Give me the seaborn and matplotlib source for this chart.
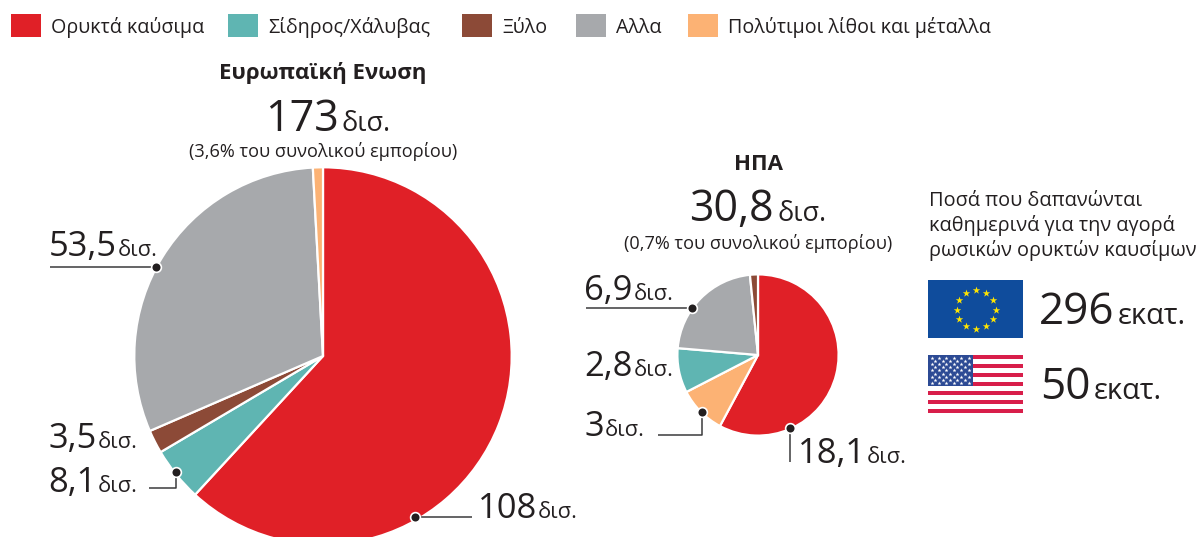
import numpy as np
import matplotlib
matplotlib.use("Agg")
import matplotlib.pyplot as plt
from matplotlib.patches import Rectangle
import seaborn as sns

# ---------- data ----------
categories = ["Ορυκτά καύσιμα", "Σίδηρος/Χάλυβας", "Ξύλο", "Αλλα", "Πολύτιμοι λίθοι και μέταλλα"]
eu_order = [0, 1, 2, 3, 4]
eu_values = [108, 8.1, 3.5, 53.5, 1.5]
us_order = [0, 4, 1, 3, 2]
us_values = [18.1, 3, 2.8, 6.9, 0.5]
daily_spend = ["296", "50"]
hex_colors = ["#E02027", "#5FB5B2", "#8C4A37", "#A7A9AC", "#FCB274"]

sns.set_theme(style="white")
FONT = "Open Sans"
plt.rcParams["font.family"] = [FONT, "DejaVu Sans"]
palette = sns.color_palette(hex_colors)
INK = "#231F20"
W, H = 1198, 537

fig = plt.figure(figsize=(W / 100, H / 100), dpi=100)
ax = fig.add_axes([0, 0, 1, 1])

def Y(y):
    return H - y

def pt(px):
    return px * 72 / 100

def draw_pie(values, order, cx, cy, r):
    ax.pie(values, colors=[palette[i] for i in order], startangle=90, counterclock=False,
           center=(cx, Y(cy)), radius=r, frame=True,
           wedgeprops=dict(edgecolor="white", linewidth=1.6))

draw_pie(eu_values, eu_order, 323, 356, 188.7)
draw_pie(us_values, us_order, 758, 355, 80.6)

ax.set_xlim(0, W)
ax.set_ylim(0, H)
ax.set_aspect("equal")
ax.axis("off")

fig.canvas.draw()
rend = fig.canvas.get_renderer()

def runs(x, y, parts, ha="left"):
    """parts: (text, px size, gap). Consecutive runs on a common baseline."""
    objs = []
    cur = x
    for s, px, gap in parts:
        t = ax.text(cur, Y(y), s, fontsize=pt(px), color=INK, ha="left", va="baseline")
        bb = t.get_window_extent(rend)
        cur = bb.x1 + gap
        objs.append(t)
    if ha == "center":
        shift = (cur - x) / 2
        for t in objs:
            px_, py_ = t.get_position()
            t.set_position((px_ - shift, py_))
    return objs

def value_label(x, y, num, unit="δισ.", big=34.5, small=22):
    runs(x, y, [(num, big, 1), (unit, small, 0)])

# ---------- legend ----------
leg_box_x = [11, 228, 462, 576, 688]
leg_text_x = [51, 268, 502, 616, 728]
for i, name in enumerate(categories):
    ax.add_patch(Rectangle((leg_box_x[i], Y(37)), 30, 23, color=palette[i], lw=0))
    ax.text(leg_text_x[i], Y(33), name, fontsize=pt(19.7), color=INK, va="baseline")

# ---------- titles ----------
ax.text(323, Y(79), "Ευρωπαϊκή Ενωση", fontsize=pt(22.3), fontweight="bold", color=INK, ha="center", va="baseline")
runs(328, 131, [("173", 43, 2), ("δισ.", 27, 0)], ha="center")
ax.text(323, Y(157), "(3,6% του συνολικού εμπορίου)", fontsize=pt(18.2), color=INK, ha="center", va="baseline")

ax.text(758, Y(170), "ΗΠΑ", fontsize=pt(22.3), fontweight="bold", color=INK, ha="center", va="baseline")
runs(758, 221, [("30,8", 43, 4), ("δισ.", 27, 0)], ha="center")
ax.text(758, Y(249), "(0,7% του συνολικού εμπορίου)", fontsize=pt(18.2), color=INK, ha="center", va="baseline")

# ---------- value labels ----------
value_label(48.5, 256, "53,5")
value_label(48.5, 448, "3,5")
value_label(48.5, 492, "8,1")
value_label(477.5, 518, "108")
value_label(584.5, 300, "6,9")
value_label(584.5, 376, "2,8")
value_label(584.5, 436, "3")
value_label(797.5, 463, "18,1")

# ---------- leaders ----------
leaders = [
    ([50, 156], [267, 267], (156, 267)),
    ([149, 176, 176], [488, 488, 472], (176, 472)),
    ([472, 415], [517, 517], (415, 517)),
    ([586, 692], [308, 308], (692, 308)),
    ([658, 702, 702], [435, 435, 412], (702, 412)),
    ([790, 790], [462, 428], (790, 428)),
]
for xs, ys, dot in leaders:
    ax.plot(xs, [Y(v) for v in ys], color="#3A3A3C", lw=1.1, solid_capstyle="butt", zorder=5)
    ax.plot(dot[0], Y(dot[1]), "o", ms=7, mfc=INK, mec="white", mew=1.2, zorder=6)

# ---------- side panel ----------
side_lines = ["Ποσά που δαπανώνται", "καθημερινά για την αγορά", "ρωσικών ορυκτών καυσίμων"]
for ln, yy in zip(side_lines, [206, 231, 256]):
    ax.text(929, Y(yy), ln, fontsize=pt(19.9), color=INK, va="baseline")

# EU flag
ax.add_patch(Rectangle((928, Y(338)), 95, 58, color="#0F4C9C", lw=0, zorder=2))
theta = np.deg2rad(np.arange(0, 360, 30))
ax.scatter(976 + 19.5 * np.cos(theta), Y(309.5) + 19.5 * np.sin(theta), marker="*", s=32,
           color="#FFE500", linewidths=0, zorder=3)

# US flag
stripe_h = 58 / 13
for k in range(13):
    ax.add_patch(Rectangle((928, Y(355 + (k + 1) * stripe_h)), 95, stripe_h,
                           color="#D81E4A" if k % 2 == 0 else "white", lw=0, zorder=2))
ax.add_patch(Rectangle((928, Y(355 + 7 * stripe_h)), 45, 7 * stripe_h, color="#2C4A94", lw=0, zorder=3))
sx, sy = [], []
for row in range(9):
    n = 6 if row % 2 == 0 else 5
    off = 0 if row % 2 == 0 else 3.7
    for c in range(n):
        sx.append(931.5 + off + c * 7.4)
        sy.append(Y(358 + row * 3.1))
ax.scatter(sx, sy, marker="*", s=9, color="white", linewidths=0, zorder=4)

runs(1039, 324, [(daily_spend[0], 44, 3), ("εκατ.", 29, 0)])
runs(1040, 399, [(daily_spend[1], 44, 3), ("εκατ.", 29, 0)])

fig.savefig("out.png", dpi=100, facecolor="white")
